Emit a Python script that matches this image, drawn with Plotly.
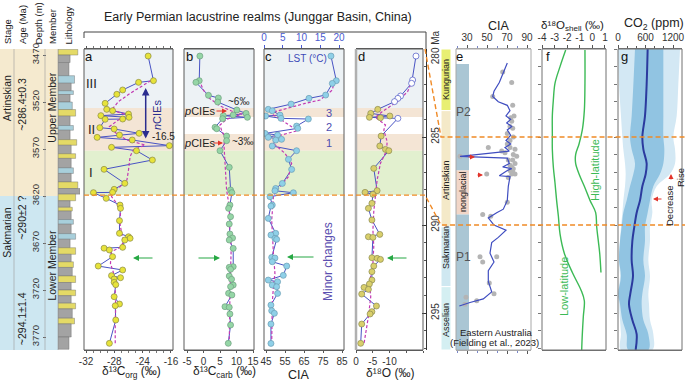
import plotly.graph_objects as go

W, H = 685, 381
def px(x): return x / W
def py(y): return 1 - y / H

# ---------------- data ----------------
DEPTH_TOP, DEPTH_BOT = 3463.6, 3783.8
AGE_TOP, AGE_BOT = 280.0, 297.1

depth_ticks = [3470, 3520, 3570, 3620, 3670, 3720, 3770]
age_ticks = [280, 285, 290, 295]
age_ticktext = ["280 Ma", "285", "290", "295"]

stage_names = ["Artinskian", "Sakmarian"]
stage_top = [DEPTH_TOP, 3620.0]
stage_bot = [3620.0, DEPTH_BOT]
stage_label_depth = [3516, 3659]
age_labels = ["~286.4±0.3", "~290±2 ?", "~294.1±1.4"]
age_label_depth = [3523, 3643, 3751]
member_names = ["Upper Member", "Lower Member"]
member_label_depth = [3526, 3694]

zone_names = ["III", "II", "I"]
zone_top = [DEPTH_TOP, 3526.4, 3571.8]
zone_bot = [3526.4, 3571.8, 3619.0]
zone_label_depth = [3500, 3549, 3595]
zone_gap = [3536.0, 3554.0]
boundary_depth = 3619.0

# lithology log
litho_top = [3464, 3470, 3478, 3492, 3500, 3508, 3512, 3520, 3528, 3535, 3545, 3550, 3560, 3566,
             3575, 3580, 3590, 3596, 3605, 3612, 3618, 3625, 3632, 3636, 3645, 3650, 3660, 3666,
             3675, 3682, 3690, 3696, 3705, 3712, 3720, 3726, 3734, 3740, 3750, 3756, 3770]
litho_bottom_end = 3783
litho_kind = "SMMCMCMCSMCMSMSMCMSMSMSMCMCMSMSMSMSMSMSMM"
litho_size = [0.9, 0.55, 0.5, 0.75, 0.6, 0.7, 0.55, 0.65, 0.8, 0.55, 0.7, 0.55, 0.85, 0.6, 0.8,
              0.6, 0.7, 0.6, 0.9, 1.0, 0.8, 0.55, 0.65, 0.6, 0.7, 0.6, 0.8, 0.55, 0.8, 0.6, 0.7,
              0.65, 0.8, 0.6, 0.8, 0.6, 0.8, 0.65, 0.75, 0.6, 0.5]

# panel a: d13C org
a_depth = [3471.1, 3497.3, 3499.1, 3507.2, 3511.8, 3521.4, 3527.8, 3529.2, 3532.8, 3534.5, 3536.3,
           3538.1, 3538.4, 3547.3, 3548.7, 3553.3, 3555.1, 3557.6, 3560.4, 3566.4, 3568.2, 3571.8,
           3581.7, 3591.6, 3606.5, 3612.9, 3616.1, 3616.4, 3622.5, 3629.6, 3633.1, 3646.2, 3659.7,
           3663.3, 3665.0, 3666.8, 3674.6, 3675.5, 3677.4, 3684.5, 3694.5, 3698.7, 3704.7, 3706.9,
           3708.3, 3711.8, 3714.3, 3727.1, 3734.9, 3736.7, 3751.9, 3776.7]
a_d13c_org = [-20.3, -19.3, -22.1, -25.1, -26.2, -28.4, -28.1, -27.0, -24.0, -29.2, -23.9, -25.1,
              -28.4, -29.4, -26.7, -22.0, -25.7, -29.9, -23.3, -16.3, -27.2, -22.5, -19.5, -28.6,
              -24.7, -26.7, -27.0, -30.6, -28.2, -25.6, -25.5, -25.7, -25.7, -24.0, -23.7, -24.7,
              -25.1, -28.6, -27.6, -27.0, -29.7, -25.1, -27.2, -25.5, -26.7, -26.7, -26.4, -26.7,
              -25.7, -26.5, -26.4, -27.6]
a_ma_depth = [3497.3, 3501.9, 3510.8, 3519.6, 3528.5, 3533.8, 3539.1, 3546.2, 3554.4, 3560.4, 3565.7,
              3571.1, 3578.1, 3592.3, 3603.0, 3610.1, 3614.3, 3620.7, 3627.8, 3636.7, 3649.1, 3659.7,
              3667.5, 3673.9, 3679.2, 3691.6, 3700.5, 3709.4, 3723.5, 3737.7, 3751.9, 3776.7]
a_ma = [-19.8, -21.2, -23.7, -25.9, -27.2, -24.2, -25.9, -27.6, -26.1, -24.3, -20.9, -23.1, -23.7,
        -24.0, -24.3, -25.6, -26.9, -27.2, -26.2, -25.5, -25.6, -25.3, -25.0, -25.3, -27.2, -27.4,
        -26.9, -26.4, -26.5, -26.4, -26.5, -26.5]
a_tickvals = [-32, -26.67, -21.33, -16]
a_ticktext = ["-32", "-28", "-24", "-16"]

# panel b: d13C carb
b_depth = [3471.1, 3497.3, 3499.1, 3512.9, 3515.7, 3520.0, 3528.5, 3532.1, 3533.8, 3534.5, 3536.3,
           3537.7, 3546.9, 3548.4, 3556.2, 3561.1, 3571.8, 3589.5, 3613.6, 3616.4, 3629.6, 3633.1,
           3642.0, 3649.8, 3660.4, 3664.7, 3666.8, 3675.7, 3695.2, 3695.9, 3698.0, 3705.1, 3708.6,
           3714.7, 3716.4, 3723.5, 3725.3, 3737.7, 3738.4, 3745.5, 3757.2, 3776.7]
b_d13c_carb = [-1.1, -1.3, -2.3, 1.5, 4.5, 4.3, 10.1, 12.9, 9.0, 6.0, 13.3, 5.8, 3.5, 4.0, 7.0, 7.0,
               5.0, 7.8, 8.2, 8.6, 8.0, 7.6, 8.2, 7.8, 8.0, 8.8, 7.8, 9.0, 9.0, 7.8, 8.2, 7.8, 8.5,
               9.0, 8.2, 7.6, 8.6, 6.5, 7.8, 8.0, 8.2, 7.5]
b_ma_depth = [3496.6, 3507.2, 3516.1, 3524.2, 3529.6, 3532.8, 3538.4, 3544.5, 3550.5, 3557.6, 3565.7,
              3585.2, 3613.6, 3631.3, 3656.2, 3673.9, 3691.6, 3727.1, 3776.7]
b_ma = [-1.3, -0.05, 1.8, 5.0, 8.5, 11.6, 7.0, 5.0, 5.5, 6.5, 6.2, 6.5, 7.0, 7.8, 8.0, 8.4, 8.2, 8.0, 7.8]
b_tickvals = [-5, 0, 5, 10, 15]
b_ticktext = ["-5", "0", "5", "10", "15"]

# panel c: CIA (top scale LST)
c_depth = [3471.1, 3497.3, 3500.2, 3512.6, 3516.1, 3522.2, 3527.8, 3529.3, 3533.9, 3534.9, 3537.4,
           3538.1, 3545.6, 3548.0, 3553.4, 3555.1, 3557.6, 3559.7, 3560.5, 3566.8, 3571.8, 3581.0,
           3591.7, 3606.6, 3611.9, 3614.4, 3616.5, 3620.7, 3629.6, 3630.7, 3643.8, 3659.7, 3661.5,
           3665.1, 3666.1, 3685.3, 3686.0, 3689.9, 3694.5, 3704.4, 3709.4, 3711.2, 3714.7, 3716.5,
           3723.6, 3736.0, 3742.0, 3744.8, 3756.2, 3776.8]
c_cia = [79.2, 82.0, 79.9, 76.4, 67.6, 58.2, 46.2, 48.3, 52.4, 44.8, 52.9, 67.3, 61.1, 61.7, 44.5,
         51.1, 46.2, 53.2, 50.1, 48.3, 61.1, 56.8, 58.5, 53.6, 50.1, 49.7, 59.4, 47.1, 48.3, 47.6,
         46.2, 50.1, 47.6, 49.7, 50.6, 48.0, 49.7, 48.3, 55.9, 54.1, 46.2, 51.1, 48.3, 50.6, 51.1,
         47.6, 48.0, 49.4, 47.6, 47.6]
c_ma_depth = [3497.3, 3507.3, 3517.9, 3521.5, 3530.3, 3533.9, 3539.2, 3546.3, 3549.8, 3556.9, 3564.0,
              3574.6, 3585.3, 3599.5, 3608.3, 3613.7, 3620.7, 3645.6, 3681.0, 3702.3, 3716.5, 3734.2,
              3776.8]
c_ma = [81.0, 79.9, 73.4, 65.5, 49.7, 48.9, 53.2, 58.5, 62.9, 49.7, 48.9, 55.0, 58.5, 56.8, 53.2,
        50.6, 48.9, 48.0, 48.9, 49.7, 48.9, 48.3, 48.0]
lst_ticks = [0, 5, 10, 15, 20]

# panel d: d18O carb
d_depth = [3471.1, 3496.6, 3500.1, 3513.6, 3516.1, 3519.6, 3527.8, 3532.1, 3534.9, 3536.3, 3536.8,
           3537.4, 3556.2, 3566.8, 3570.4, 3571.8, 3590.6, 3614.3, 3616.1, 3618.2, 3627.8, 3633.1,
           3645.5, 3660.8, 3663.3, 3664.0, 3685.6, 3686.3, 3687.4, 3694.5, 3700.5, 3709.4, 3713.6,
           3717.2, 3719.3, 3724.3, 3737.0, 3743.0, 3745.5, 3756.2, 3776.7]
d_d18o = [-17.9, -16.9, -16.6, -13.3, -12.5, -11.5, -6.5, -4.4, -10.1, -4.0, -7.3, -12.5, -7.5, -7.1,
          -8.8, -9.8, -5.3, -6.3, -2.7, -5.05, -4.75, -3.7, -4.75, -7.1, -3.7, -5.05, -4.75, -6.3,
          -7.3, -5.3, -4.75, -4.75, -4.0, -2.4, -3.7, -1.7, -6.1, -4.75, -4.2, -1.7, -1.4]
d_open_idx = [0, 1, 2, 3, 4, 5, 11]
d_ma_depth = [3496.6, 3509.0, 3519.6, 3530.3, 3536.3, 3544.5, 3549.8, 3562.2, 3571.8, 3585.2, 3603.0,
              3620.7, 3636.7, 3656.2, 3673.9, 3691.6, 3712.9, 3727.1, 3748.4, 3776.7]
d_ma = [-16.9, -15.4, -12.3, -7.8, -5.8, -8.8, -8.3, -9.3, -9.1, -7.3, -6.3, -5.8, -5.3, -5.05, -5.3,
        -5.05, -4.0, -4.4, -3.7, -2.4]
d_tickvals = [0, -5, -10]
d_ticktext = ["0", "-5", "-10"]

# panel e: Eastern Australia CIA vs age
e_stage_names = ["Kungurian", "Artinskian", "Sakmarian", "Asselian"]
e_stage_top = [280.0, 283.5, 290.1, 293.5]
e_stage_bot = [283.5, 290.1, 293.5, AGE_BOT]
glacial_names = ["P2", "nonglacial", "P1"]
glacial_top = [280.85, 286.9, 289.4]
glacial_bot = [286.9, 289.4, AGE_BOT]
e_line_age = [280.8, 281.3, 281.9, 282.4, 282.7, 283.0, 283.2, 283.5, 283.8, 284.0, 284.2, 284.4,
              284.6, 284.9, 285.2, 285.4, 285.6, 285.8, 286.1, 286.2, 286.5, 286.7, 286.8, 286.9,
              287.2, 287.25, 287.8, 288.6, 289.1, 289.3, 289.6, 290.0, 290.3, 290.7, 291.0, 291.6,
              292.1, 292.6, 293.2, 293.8, 294.2, 294.4, 294.6]
e_line_cia = [70.3, 66.3, 62.3, 57.0, 55.7, 61.3, 70.3, 73.0, 69.0, 73.7, 69.7, 74.7, 70.3, 73.7,
              69.0, 73.7, 68.0, 72.3, 23.0, 70.3, 72.3, 65.7, 74.7, 70.3, 62.3, 73.0, 71.3, 70.3,
              66.3, 59.7, 51.3, 57.0, 69.0, 61.3, 54.7, 53.0, 57.0, 51.3, 51.3, 54.7, 46.3, 33.0, 22.3]
e_pts_age = [281.3, 281.9, 282.7, 283.2, 283.8, 283.9, 284.1, 284.4, 284.5, 284.8, 285.0, 285.2,
             285.4, 285.6, 285.6, 285.7, 285.8, 285.9, 286.0, 286.1, 286.1, 286.3, 286.3, 286.5,
             286.6, 286.7, 286.8, 286.9, 287.0, 287.1, 287.1, 287.1, 287.3, 288.7, 289.4, 289.5,
             291.8, 291.8, 292.1, 293.3, 293.9, 294.1, 294.3, 294.5]
e_pts_cia = [65.7, 74.7, 55.7, 75.7, 77.0, 73.7, 74.7, 73.0, 75.7, 70.3, 76.3, 73.0, 70.3, 51.3,
             73.0, 78.0, 64.7, 68.0, 76.3, 23.0, 79.7, 71.3, 75.7, 78.0, 73.0, 74.7, 76.3, 73.0,
             75.7, 78.0, 74.7, 49.7, 71.3, 70.3, 45.7, 53.7, 59.7, 43.0, 45.7, 52.3, 57.0, 29.0,
             39.7, 28.0]

# panel f: d18O shell
f_low_age = [280.06, 281.0, 281.95, 282.9, 283.8, 284.8, 285.7, 286.7, 287.6, 288.6, 289.5, 290.5,
             291.6, 292.7, 293.7, 294.3, 295.2, 296.2, 297.1]
f_low = [-2.12, -2.57, -2.97, -3.10, -3.18, -3.18, -3.18, -3.10, -2.97, -2.84, -2.70, -2.57, -2.23,
         -1.59, -0.90, -0.64, -0.72, -0.80, -0.85]
f_high_age = [280.06, 281.95, 283.5, 284.6, 285.4, 286.0, 286.5, 287.1, 287.8, 288.6, 289.3, 290.1,
              290.9, 291.6, 292.7]
f_high = [-0.59, -0.59, -0.64, -0.80, -1.06, -1.33, -1.33, -1.06, -0.64, -0.19, 0.26, 0.34, 0.47,
          0.58, 0.68]
f_tickvals = [-4, -3, -2, -1, 0, 1]
f_ticktext = ["-4", "-3", "-2", "-1", "0", "1"]

# panel g: CO2
g_age = [280.0, 282.0, 283.8, 285.0, 285.7, 286.5, 287.1, 287.8, 288.6, 289.3, 290.1, 290.9, 292.0,
         292.9, 293.9, 294.5, 295.4, 296.2, 297.1]
g_median = [647, 625, 589, 531, 553, 625, 604, 531, 480, 407, 356, 313, 298, 327, 269, 240, 313, 407, 385]
g_in_lo = [371, 335, 298, 262, 298, 371, 335, 262, 189, 116, 80, 44, 22, 65, 7, 44, 95, 189, 225]
g_in_hi = [989, 989, 989, 989, 1011, 989, 916, 771, 698, 647, 589, 589, 553, 589, 531, 516, 553, 662, 662]
g_out_lo = [0, 22, 65, 95, 116, 153, 167, 153, 116, 95, 65, 44, 22, 44, 7, 22, 44, 65, 65]
g_out_hi = [1353, 1316, 1280, 1207, 1244, 1244, 1134, 844, 735, 749, 698, 698, 662, 698, 662, 676,
            698, 771, 749]

for xs, ys in [(a_depth, a_d13c_org), (a_ma_depth, a_ma), (b_depth, b_d13c_carb), (b_ma_depth, b_ma),
               (c_depth, c_cia), (c_ma_depth, c_ma), (d_depth, d_d18o), (d_ma_depth, d_ma),
               (e_line_age, e_line_cia), (e_pts_age, e_pts_cia), (f_low_age, f_low),
               (f_high_age, f_high), (g_age, g_median), (g_age, g_in_lo), (g_age, g_in_hi),
               (g_age, g_out_lo), (g_age, g_out_hi), (litho_top, litho_size), (litho_top, litho_kind)]:
    assert len(xs) == len(ys), (len(xs), len(ys))

# ---------------- styles ----------------
FONT = "Liberation Sans, Arial, sans-serif"
TICKFONT = dict(family=FONT, size=10, color="#333")
LINE_BLUE = "#4853c4"
MAGENTA = "#c23ab3"
Y_DOM = [py(350), py(49)]

def depth_y(d):
    return Y_DOM[0] + (DEPTH_BOT - d) / (DEPTH_BOT - DEPTH_TOP) * (Y_DOM[1] - Y_DOM[0])

def age_y(a):
    return Y_DOM[0] + (AGE_BOT - a) / (AGE_BOT - AGE_TOP) * (Y_DOM[1] - Y_DOM[0])

fig = go.Figure()

# lithology bars
litho_bot = litho_top[1:] + [litho_bottom_end]
litho_colors = {"S": "#e4da66", "M": "#a3a3a3", "C": "#a8cfdb"}
fig.add_trace(go.Bar(
    orientation="h", x=litho_size, y=[(t + b) / 2 for t, b in zip(litho_top, litho_bot)],
    width=[b - t for t, b in zip(litho_top, litho_bot)], base=0,
    marker=dict(color=[litho_colors[k] for k in litho_kind], line=dict(color="#666", width=0.4)),
    xaxis="x9", yaxis="y", showlegend=False, hoverinfo="skip"))

def add_panel(xa, depth, vals, ma_depth, ma_vals, fill, edge, open_idx=()):
    fig.add_trace(go.Scatter(x=vals, y=depth, mode="lines", line=dict(color=LINE_BLUE, width=1),
                             xaxis=xa, yaxis="y", showlegend=False))
    fig.add_trace(go.Scatter(x=ma_vals, y=ma_depth, mode="lines",
                             line=dict(color=MAGENTA, width=1.2, dash="3px,2px"),
                             xaxis=xa, yaxis="y", showlegend=False))
    fills = ["white" if i in open_idx else fill for i in range(len(vals))]
    edges = [LINE_BLUE if i in open_idx else edge for i in range(len(vals))]
    fig.add_trace(go.Scatter(x=vals, y=depth, mode="markers",
                             marker=dict(size=6, color=fills, line=dict(color=edges, width=0.7)),
                             xaxis=xa, yaxis="y", showlegend=False))

add_panel("x", a_depth, a_d13c_org, a_ma_depth, a_ma, "#e7e33a", "#8a8a45")
add_panel("x2", b_depth, b_d13c_carb, b_ma_depth, b_ma, "#95d6a6", "#6f9f7f")
add_panel("x3", c_depth, c_cia, c_ma_depth, c_ma, "#8fd0e8", "#6c9db3")
add_panel("x5", d_depth, d_d18o, d_ma_depth, d_ma, "#d9cf6b", "#8b8a50", d_open_idx)

# empty helper traces so that the overlay axes (LST scale, age ticks of f and g) get drawn
for xa, ya in [("x4", "y"), ("x7", "y3"), ("x8", "y4")]:
    fig.add_trace(go.Scatter(x=[None], y=[None], mode="markers", xaxis=xa, yaxis=ya,
                             showlegend=False, hoverinfo="skip"))

# panel e
fig.add_trace(go.Scatter(x=e_pts_cia, y=e_pts_age, mode="markers",
                         marker=dict(size=5, color="#b4b4b4"), xaxis="x6", yaxis="y2", showlegend=False))
fig.add_trace(go.Scatter(x=e_line_cia, y=e_line_age, mode="lines", line=dict(color="#3f4dc0", width=1.2),
                         xaxis="x6", yaxis="y2", showlegend=False))
# panel f
for xs, ys in [(f_low, f_low_age), (f_high, f_high_age)]:
    fig.add_trace(go.Scatter(x=xs, y=ys, mode="lines", line=dict(color="#3cba55", width=1.4, shape="spline"),
                             xaxis="x7", yaxis="y2", showlegend=False))
# panel g
fig.add_trace(go.Scatter(x=g_out_lo + g_out_hi[::-1], y=g_age + g_age[::-1], fill="toself",
                         fillcolor="#d3e8f4", line=dict(width=0, shape="spline"), mode="lines",
                         xaxis="x8", yaxis="y2", showlegend=False))
fig.add_trace(go.Scatter(x=g_in_lo + g_in_hi[::-1], y=g_age + g_age[::-1], fill="toself",
                         fillcolor="#91c4e2", line=dict(width=0, shape="spline"), mode="lines",
                         xaxis="x8", yaxis="y2", showlegend=False))
fig.add_trace(go.Scatter(x=g_median, y=g_age, mode="lines", line=dict(color="#2b3a9e", width=2, shape="spline"),
                         xaxis="x8", yaxis="y2", showlegend=False))

# ---------------- shapes ----------------
shapes = []
stage_colors = ["#f5eacf", "#cde7f1"]
for top, bot, col in zip(stage_top, stage_bot, stage_colors):
    shapes.append(dict(type="rect", xref="paper", yref="y", x0=0, x1=px(58), y0=top, y1=bot,
                       fillcolor=col, line=dict(width=0), layer="below"))
for xx in [14, 45, 58]:
    shapes.append(dict(type="line", xref="paper", yref="paper", x0=px(xx), x1=px(xx), y0=Y_DOM[0], y1=Y_DOM[1],
                       line=dict(color="#9a9a9a", width=0.6)))

zone_colors = ["#edf2f5", "#f4e5d5", "#e2f0cf"]
for xd in ["x", "x2", "x3", "x5"]:
    for top, bot, col in zip(zone_top, zone_bot, zone_colors):
        shapes.append(dict(type="rect", xref=xd + " domain", yref="y", x0=0, x1=1, y0=top, y1=bot,
                           fillcolor=col, line=dict(width=0), layer="below"))
    if xd != "x":
        shapes.append(dict(type="rect", xref=xd + " domain", yref="y", x0=0, x1=1,
                           y0=zone_gap[0], y1=zone_gap[1], fillcolor="white", line=dict(width=0), layer="below"))
for xd in ["x", "x2", "x3", "x5"]:
    shapes.append(dict(type="rect", xref=xd + " domain", yref="y domain", x0=0, x1=1, y0=0, y1=1,
                       line=dict(color="#5a5a5a", width=1)))
shapes.append(dict(type="line", xref="x5 domain", yref="y domain", x0=0, x1=0, y0=0, y1=1,
                   line=dict(color="#b0b0b0", width=2.5)))

# panel e stage column and glacial intervals
e_stage_colors = ["#e8ef73", "#f4e9c8", "#cfe8f1", "#d4eff2"]
for top, bot, col in zip(e_stage_top, e_stage_bot, e_stage_colors):
    shapes.append(dict(type="rect", xref="paper", yref="y2", x0=px(441), x1=px(451), y0=top, y1=bot,
                       fillcolor=col, line=dict(color="white", width=1), layer="below"))
glacial_colors = ["#aac6d4", "#f2d6c7", "#aac6d4"]
for top, bot, col in zip(glacial_top, glacial_bot, glacial_colors):
    shapes.append(dict(type="rect", xref="x6", yref="y2", x0=19, x1=32, y0=top, y1=bot,
                       fillcolor=col, line=dict(width=0), layer="below"))
for xd, col in [("x6", "#a8a8a8"), ("x7", "#707070"), ("x8", "#707070")]:
    shapes.append(dict(type="rect", xref=xd + " domain", yref="y2 domain", x0=0, x1=1, y0=0, y1=1,
                       line=dict(color=col, width=1)))

# bracket on top of a-d
shapes.append(dict(type="path", xref="paper", yref="paper",
                   path=f"M {px(84)},{py(38)} L {px(84)},{py(32)} L {px(426)},{py(32)} L {px(426)},{py(49)}",
                   line=dict(color="#444", width=1)))
# orange correlation lines
ORANGE = "#f08a26"
p1 = (f"M {px(84)},{depth_y(boundary_depth)} L {px(425)},{depth_y(boundary_depth)} "
      f"L {px(441)},{age_y(290)} L {px(685)},{age_y(290)}")
p2 = f"M {px(425)},{depth_y(DEPTH_TOP)} L {px(441)},{age_y(285)} L {px(685)},{age_y(285)}"
for p in [p1, p2]:
    shapes.append(dict(type="path", xref="paper", yref="paper", path=p,
                       line=dict(color=ORANGE, width=1.4, dash="5px,3px")))

# ---------------- annotations ----------------
ann = []
def text(x, y, s, size=10, color="#222", angle=0, xref="paper", yref="paper", **kw):
    d = dict(x=x, y=y, text=s, xref=xref, yref=yref, showarrow=False, textangle=angle, borderpad=0,
             font=dict(family=FONT, size=size, color=color), xanchor="center", yanchor="middle")
    d.update(kw)
    ann.append(d)

def arrow(xh, yh, ax, ay, color, side="end", width=1.2, head=2):
    ann.append(dict(x=px(xh), y=py(yh), xref="paper", yref="paper", ax=ax, ay=ay, text="",
                    showarrow=True, arrowhead=head, startarrowhead=head, arrowsize=1, arrowwidth=width,
                    arrowcolor=color, arrowside=side))

text(px(258), py(17), "Early Permian lacustrine realms (Junggar Basin, China)", size=12.5, color="#222")
for s, xx in [("Stage", 7), ("Age (Ma)", 22), ("Depth (m)", 38), ("Member", 52), ("Lithology", 68)]:
    text(px(xx), py(45.5), s, size=9.5, angle=-90, yanchor="bottom")
for s, d in zip(stage_names, stage_label_depth):
    text(px(7), d, s, size=10.5, angle=-90, yref="y")
for s, d in zip(age_labels, age_label_depth):
    text(px(22), d, s, size=10.5, angle=-90, yref="y")
for s, d in zip(member_names, member_label_depth):
    text(px(52), d, s, size=10.5, angle=-90, yref="y")
for s, d in zip(zone_names, zone_label_depth):
    text(px(91), d, s, size=13, yref="y")

for s, xx, yy in [("a", 89, 57), ("b", 189, 57), ("c", 268.5, 57), ("d", 361.5, 56), ("e", 460, 57),
                  ("f", 548, 56), ("g", 624, 56)]:
    text(px(xx), py(yy), s, size=13, color="#111")

for s, xx in [("δ¹³C<sub>org</sub> (‰)", 131), ("δ¹³C<sub>carb</sub> (‰)", 224), ("δ¹⁸O (‰)", 390)]:
    text(px(xx), py(381.5), s, size=12, yanchor="bottom")
text(px(299), py(374.5), "CIA", size=12.5)
text(px(499), py(26), "CIA", size=12.5)
text(px(572), py(34), "δ¹⁸O<sub>shell</sub> (‰)", size=11.5, yanchor="bottom")
text(px(654), py(24), "CO<sub>2</sub> (ppm)", size=12.5)

NAVY = "#2b2d8f"
GREEN = "#27a844"
RED = "#e2342b"
text(px(157), py(115), "<i>n</i>CIEs", size=11, color=NAVY, angle=-90)
text(px(163), py(137), "-16.5", size=10)
arrow(145.7, 88, 0, 52, NAVY, side="end+start", width=1.5)
text(px(238), py(101), "~6‰", size=10)
text(px(199), py(111), "<i>p</i>CIEs", size=11)
text(px(199), py(143), "<i>p</i>CIEs", size=11)
text(px(242), py(141), "~3‰", size=10)
arrow(227, 111, -12, 0, RED, width=1)
arrow(223, 143, -11, 0, RED, width=1)
text(px(307), py(59), "LST (°C)", size=10, color="#3d4bb8")
for s, yy in [("3", 113), ("2", 127), ("1", 143)]:
    text(px(329), py(yy), s, size=11, color="#4d4db0")
text(px(328), py(262), "Minor changes", size=12, color="#5b4fb0", angle=-90)
arrow(133, 258, 21, 0, GREEN)
arrow(220, 258, -23, 0, GREEN)
arrow(287, 257, 28, 0, GREEN)
arrow(387, 258, 21, 0, GREEN)

for s, yy in [("Kungurian", 80), ("Artinskian", 180), ("Sakmarian", 248), ("Asselian", 320)]:
    text(px(446), py(yy), s, size=9, angle=-90)
text(px(463), py(112), "P2", size=12, color="#555")
text(px(463), py(257), "P1", size=12, color="#555")
text(px(463), py(192), "nonglacial", size=9, angle=-90)
text(px(496), py(332), "Eastern Australia", size=9.5)
text(px(494), py(342), "(Fielding et al., 2023)", size=9.5)
arrow(475, 157, -8, 0, RED, width=1)
arrow(483, 175, -7, 0, RED, width=1)

text(px(595), py(170), "High-latitude", size=11, color="#3cba55", angle=-90)
text(px(564), py(287), "Low-latitude", size=11, color="#3cba55", angle=-90)
text(px(669), py(206), "Decrease", size=9.5, angle=-90)
text(px(680), py(178), "Rise", size=9.5, angle=-90)
arrow(653, 199, 10, 0, RED, width=1)
arrow(671, 174, 0, 7, RED, width=1)

# ---------------- axes ----------------
def xax(domain, rng, tickvals, anchor="y", side="bottom", ticktext=None, mirror=True, linecolor="#5a5a5a",
        tickcolor="#555", font=TICKFONT, **kw):
    d = dict(domain=[px(domain[0]), px(domain[1])], range=rng, anchor=anchor, side=side,
             tickvals=tickvals, ticks="outside", ticklen=2, tickcolor=tickcolor, showline=True,
             linecolor=linecolor, linewidth=1, mirror=mirror, showgrid=False, zeroline=False,
             tickfont=font, automargin=False, tickangle=0)
    if ticktext is not None:
        d["ticktext"] = ticktext
    d.update(kw)
    return d

layout = dict(
    width=W, height=H, margin=dict(l=0, r=0, t=0, b=0, pad=0), template="none",
    paper_bgcolor="white", plot_bgcolor="rgba(0,0,0,0)", showlegend=False,
    font=dict(family=FONT, size=10, color="#222"),
    xaxis=xax((84, 173), [-32.38, -15.62], a_tickvals, ticktext=a_ticktext, mirror="allticks",
              minor=dict(ticks="outside", ticklen=2, dtick=16 / 12, tick0=-32, tickcolor="#777")),
    xaxis2=xax((184, 254), [-5.91, 15.3], b_tickvals, ticktext=b_ticktext),
    xaxis3=xax((264, 344), [43.95, 86.05], [45, 55, 65, 75, 85]),
    xaxis4=dict(overlaying="x3", anchor="y", side="top", range=[0, 21.33],
                tickvals=lst_ticks, ticks="outside", ticklen=3, tickcolor="#4a5bd0", showline=False,
                showgrid=False, zeroline=False, showticklabels=True, tickangle=0,
                tickfont=dict(family=FONT, size=10, color="#4a5bd0"), automargin=False),
    xaxis5=xax((356, 423), [0, -20], d_tickvals, ticktext=d_ticktext,
               minor=dict(ticks="outside", ticklen=2, dtick=5, tickcolor="#555")),
    xaxis6=xax((456, 531), [19, 94], [30, 50, 70, 90], anchor="y2", side="top", mirror="allticks",
               ticklen=3, linecolor="#a8a8a8",
               minor=dict(ticks="outside", ticklen=2, dtick=10, tickcolor="#7a86c8")),
    xaxis7=xax((542, 606), [-4, 1.08], f_tickvals, ticktext=f_ticktext, anchor="y2", side="top",
               ticklen=3, linecolor="#707070"),
    xaxis8=xax((618, 682), [0, 1396], [0, 600, 1200], anchor="y2", side="top", linecolor="#707070",
               ticklen=3, minor=dict(ticks="outside", ticklen=2, dtick=200)),
    xaxis9=dict(domain=[px(58), px(80)], range=[0, 1], anchor="y", visible=False),
    yaxis=dict(domain=Y_DOM, range=[DEPTH_BOT, DEPTH_TOP], anchor="free", position=px(46), side="left",
               tickvals=depth_ticks, tickangle=-90, ticks="outside", ticklen=3, tickcolor="#666",
               showline=False, showgrid=False, zeroline=False,
               tickfont=dict(family=FONT, size=9.5, color="#333"), automargin=False),
    yaxis2=dict(domain=Y_DOM, range=[AGE_BOT, AGE_TOP], anchor="free", position=px(426), side="right",
                tickvals=age_ticks, ticktext=age_ticktext, tickangle=-90, ticks="inside", ticklen=4,
                tickcolor="#333", minor=dict(dtick=1, ticks="inside", ticklen=2, tickcolor="#555"),
                showline=True, linecolor="#333", linewidth=1, showgrid=False, zeroline=False,
                tickfont=TICKFONT, automargin=False),
    yaxis3=dict(overlaying="y2", anchor="x7", side="left", range=[AGE_BOT, AGE_TOP], dtick=1,
                ticks="outside", ticklen=3, tickcolor="#777", showticklabels=False, showline=False,
                showgrid=False, zeroline=False, automargin=False),
    yaxis4=dict(overlaying="y2", anchor="x8", side="left", range=[AGE_BOT, AGE_TOP], dtick=1,
                ticks="outside", ticklen=3, tickcolor="#777", showticklabels=False, showline=False,
                showgrid=False, zeroline=False, automargin=False),
    shapes=shapes, annotations=ann,
)
fig.update_layout(**layout)
fig.write_html("out.html", config={"displayModeBar": False},
               post_script="document.body.style.margin='0';document.body.style.padding='0';"
                           "document.body.style.overflow='hidden';")
